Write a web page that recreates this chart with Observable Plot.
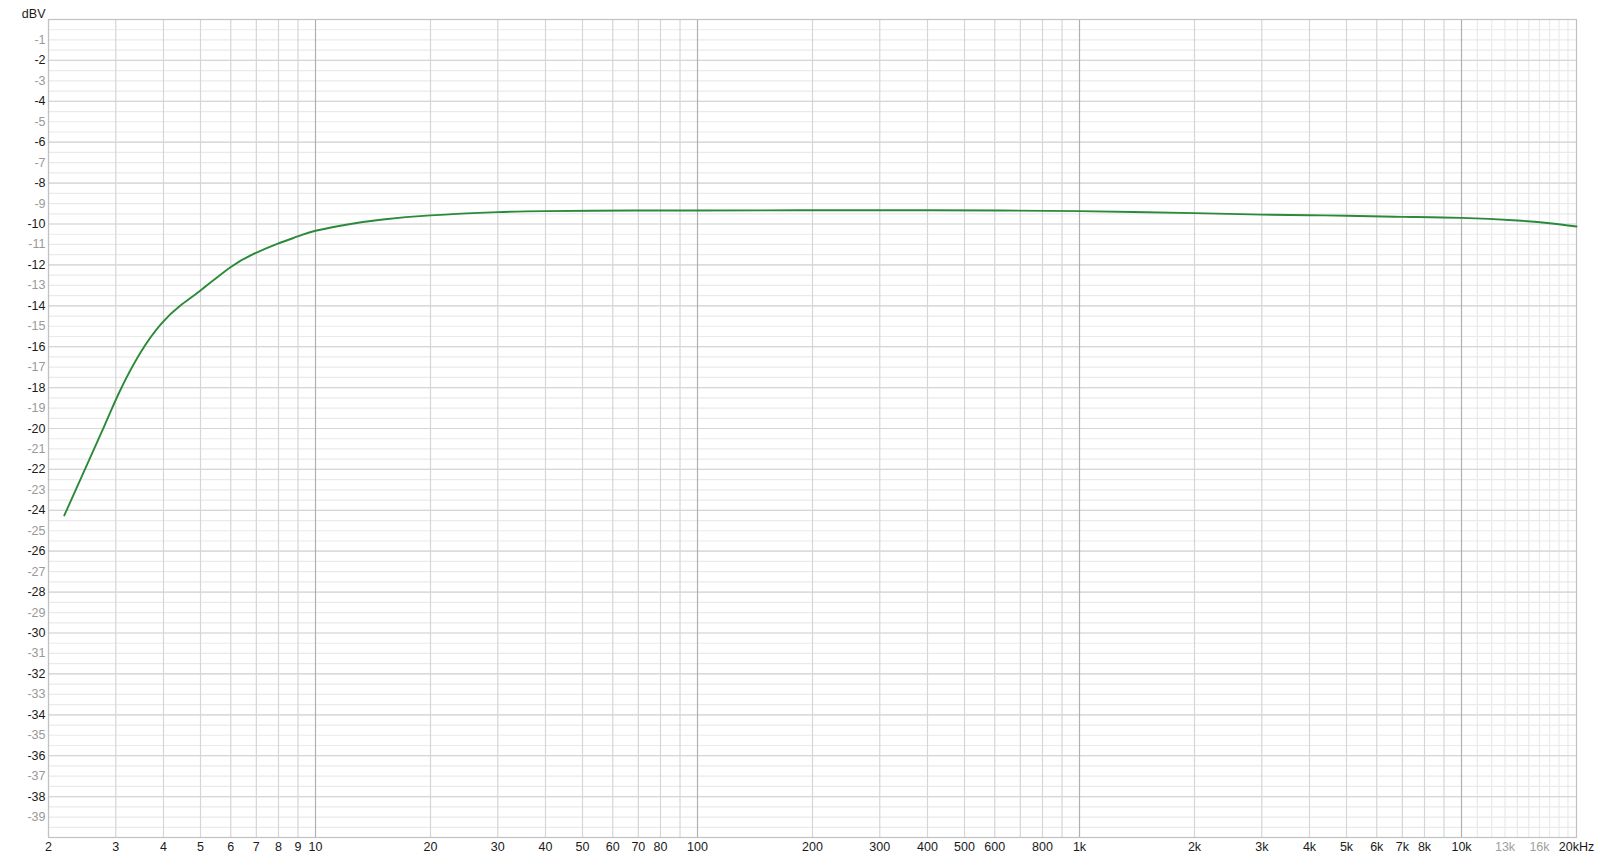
<!DOCTYPE html>
<html>
<head>
<meta charset="utf-8">
<script src="https://cdn.jsdelivr.net/npm/d3@7"></script>
<script src="https://cdn.jsdelivr.net/npm/@observablehq/plot@0.6"></script>
<style>
  html, body { margin: 0; padding: 0; background: #fff; }
  #chart svg { display: block; }
</style>
</head>
<body>
<div id="chart"></div>
<script>
// Frequency response data (Hz, dBV)
const freqs = [2.2, 2.79, 3.08, 3.48, 3.96, 4.43, 5.0, 5.99, 6.89, 7.94, 9.14, 10, 12.35, 15, 20, 30, 40, 68, 100, 200, 400, 625, 1000, 2000, 3000, 4000, 5000, 7000, 10000, 14000, 17000, 20000];
const dbv   = [-24.25, -19.94, -18.14, -16.3, -14.85, -13.99, -13.25, -12.11, -11.46, -10.97, -10.56, -10.33, -10.0, -9.78, -9.58, -9.42, -9.37, -9.34, -9.34, -9.33, -9.33, -9.34, -9.37, -9.47, -9.54, -9.57, -9.6, -9.65, -9.7, -9.83, -9.96, -10.12];

// X tick labels
const xTickValues = [2,3,4,5,6,7,8,9,10,20,30,40,50,60,70,80,100,200,300,400,500,600,800,1000,2000,3000,4000,5000,6000,7000,8000,10000,13000,16000,20000];
const xTickLabels = ["2","3","4","5","6","7","8","9","10","20","30","40","50","60","70","80","100","200","300","400","500","600","800","1k","2k","3k","4k","5k","6k","7k","8k","10k","13k","16k","20kHz"];
const xTickGrey = ["13k","16k"];

// Y tick labels
const yTickValues = d3.range(-1, -40, -1);

// Grid lines
const decadeLines = [10, 100, 1000, 10000];
const minorLines = [2,3,4,5,6,7,8,9,20,30,40,50,60,70,80,90,200,300,400,500,600,700,800,900,2000,3000,4000,5000,6000,7000,8000,9000];
const fineLines = [11000,12000,13000,14000,15000,16000,17000,18000,19000];
const hFineLines = d3.range(-0.5, -40, -0.5);
const hMajorLines = d3.range(-2, -40, -2);

const data = freqs.map((f, i) => ({f, v: dbv[i]}));
const xTicks = xTickValues.map((v, i) => ({v, label: xTickLabels[i]}));

const font = "'Liberation Sans', Arial, Helvetica, sans-serif";

const chart = Plot.plot({
  width: 1600,
  height: 863,
  marginLeft: 48,
  marginRight: 24,
  marginTop: 19,
  marginBottom: 26,
  style: {fontFamily: font, fontSize: "12.5px", background: "#fff", overflow: "visible"},
  x: {type: "log", domain: [2, 20000], axis: null},
  y: {domain: [-40, 0], axis: null},
  marks: [
    Plot.ruleY(hFineLines, {stroke: "#eaeaea", strokeWidth: 1.2}),
    Plot.ruleX(fineLines, {stroke: "#eaeaea", strokeWidth: 1.2}),
    Plot.ruleY(hMajorLines, {stroke: "#d6d6d6", strokeWidth: 1.2}),
    Plot.ruleX(minorLines, {stroke: "#d6d6d6", strokeWidth: 1.2}),
    Plot.ruleX(decadeLines, {stroke: "#b0b0b0", strokeWidth: 1.2}),
    Plot.frame({stroke: "#c2c2c2", strokeWidth: 1.2}),
    Plot.line(data, {x: "f", y: "v", stroke: "#2b8a3a", strokeWidth: 1.9, curve: "natural"}),
    Plot.text(yTickValues, {
      y: d => d, frameAnchor: "left", dx: -3, textAnchor: "end",
      text: d => String(d),
      fill: d => (d % 2 === 0 ? "#1a1a1a" : "#999999"),
      fontSize: 12.5
    }),
    Plot.text(xTicks, {
      x: "v", frameAnchor: "bottom", dy: 13, textAnchor: "middle",
      text: "label",
      fill: d => (xTickGrey.includes(d.label) ? "#a0a0a0" : "#1a1a1a"),
      fontSize: 12.5
    }),
    Plot.text(["dBV"], {
      frameAnchor: "top-left", dx: -3, dy: -10, textAnchor: "end",
      text: d => d, fill: "#1a1a1a", fontSize: 12.5
    })
  ]
});

document.getElementById("chart").appendChild(chart);
</script>
</body>
</html>
